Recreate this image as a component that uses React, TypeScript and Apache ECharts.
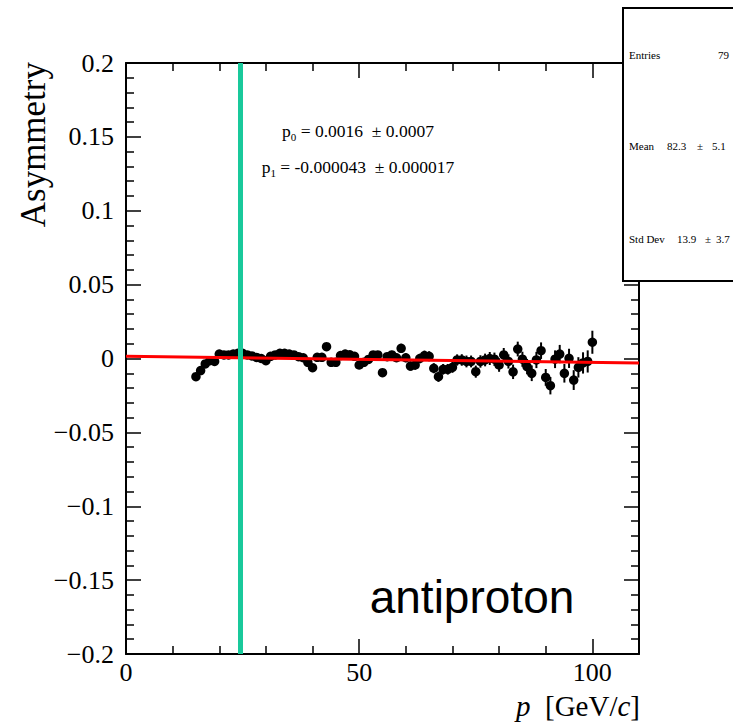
import React, { useEffect, useRef } from "react";
import * as echarts from "echarts";

// ---- data -------------------------------------------------------------
const MOMENTUM = [
  15, 16, 17, 18, 19, 20, 21, 22, 23, 24, 25, 26, 27, 28, 29, 30, 31, 32, 33, 34,
  35, 36, 37, 38, 39, 40, 41, 42, 43, 44, 45, 46, 47, 48, 49, 50, 51, 52, 53, 54,
  55, 56, 57, 58, 59, 60, 61, 62, 63, 64, 65, 66, 67, 68, 69, 70, 71, 72, 73, 74,
  75, 76, 77, 78, 79, 80, 81, 82, 83, 84, 85, 86, 87, 88, 89, 90, 91, 92, 93, 94,
  95, 96, 97, 98, 99, 100,
];

const ASYMMETRY = [
  -0.0123, -0.0082, -0.0037, -0.0015, -0.002, 0.003, 0.0024, 0.0024, 0.003, 0.0035,
  0.0035, 0.0024, 0.0017, 0.0007, 0.0, -0.0015, 0.0015, 0.0024, 0.0035, 0.0035,
  0.003, 0.0024, 0.0012, 0.0005, -0.0026, -0.0062, 0.0008, 0.0008, 0.008, -0.0026,
  -0.0026, 0.002, 0.003, 0.0025, 0.0015, -0.0044, -0.0026, -0.0006, 0.0024, 0.0024,
  -0.0096, 0.0012, 0.0024, 0.0005, 0.0069, 0.0005, -0.0051, -0.0044, 0.0, 0.002,
  0.0015, -0.0066, -0.0123, -0.0073, -0.0073, -0.006, -0.001, -0.001, -0.002, -0.002,
  -0.0089, -0.002, -0.001, 0.0, -0.0005, -0.0044, 0.0024, -0.002, -0.009, 0.0064,
  -0.0005, -0.0055, -0.01, -0.001, 0.0053, -0.0128, -0.0184, -0.0005, 0.003, -0.01,
  0.0001, -0.0146, -0.006, -0.003, -0.002, 0.011,
];

const ASYM_ERROR = [
  0.0012, 0.0012, 0.0012, 0.0012, 0.0012, 0.0012, 0.0012, 0.0012, 0.0013, 0.0013,
  0.0013, 0.0013, 0.0013, 0.0014, 0.0014, 0.0014, 0.0016, 0.0016, 0.0017, 0.0017,
  0.0018, 0.0018, 0.0018, 0.0019, 0.0019, 0.002, 0.002, 0.002, 0.0021, 0.0021,
  0.0022, 0.0023, 0.0023, 0.0024, 0.0024, 0.0025, 0.0025, 0.0026, 0.0026, 0.0027,
  0.0027, 0.0028, 0.0028, 0.0029, 0.003, 0.003, 0.0031, 0.0032, 0.0032, 0.0033,
  0.0034, 0.0034, 0.0035, 0.0036, 0.0036, 0.0037, 0.0038, 0.0039, 0.004, 0.004,
  0.0041, 0.0042, 0.0043, 0.0044, 0.0045, 0.0046, 0.0047, 0.0048, 0.0049, 0.005,
  0.0051, 0.0052, 0.0053, 0.0055, 0.0056, 0.0057, 0.0059, 0.006, 0.0062, 0.0063,
  0.0065, 0.0067, 0.0069, 0.0072, 0.0075, 0.0078,
];

const FIT_P0 = 0.0016;
const FIT_P1 = -0.000043;
const FIT_LINES = [
  { name: "p", sub: "0", rest: " = 0.0016  \u00b1 0.0007" },
  { name: "p", sub: "1", rest: " = -0.000043  \u00b1 0.000017" },
];
const CUT_P = 24.5;
const X_RANGE = [0, 110];
const Y_RANGE = [-0.2, 0.2];
const STATS = [
  { label: "Entries", value: "", pm: "", err: "79" },
  { label: "Mean", value: "82.3", pm: "\u00b1", err: "5.1" },
  { label: "Std Dev", value: "13.9", pm: "\u00b1", err: "3.7" },
];
const X_TITLE = "{i|p}  [GeV/{i|c}]";
const Y_TITLE = "Asymmetry";
const LABEL_TEXT = "antiproton";

const SERIF = '"Liberation Serif", "Times New Roman", serif';
const SANS = '"Liberation Sans", Arial, sans-serif';

function fmtY(v: number) {
  const r = Math.round(v * 1000) / 1000;
  if (r === 0) return "0";
  if (r < 0) return "\u2212" + String(Math.abs(r));
  return String(r);
}

export default function App() {
  const ref = useRef<HTMLDivElement>(null);
  useEffect(() => {
    const chart = echarts.init(ref.current!, null, { renderer: "svg" });
    const axisCommon = {
      axisLine: { show: true, onZero: false, lineStyle: { color: "#000", width: 2 } },
      axisTick: { show: true, inside: true, length: 15, lineStyle: { color: "#000", width: 1.5 } },
      minorTick: { show: true, splitNumber: 5, length: 8, lineStyle: { color: "#000", width: 1.5 } },
      splitLine: { show: false },
    };
    const labelStyle = { color: "#000", fontFamily: SERIF, fontSize: 26 };

    const pointData = MOMENTUM.map((p, i) => [p, ASYMMETRY[i], ASYM_ERROR[i]]);
    const fitData = [
      [X_RANGE[0], FIT_P0 + FIT_P1 * X_RANGE[0]],
      [X_RANGE[1], FIT_P0 + FIT_P1 * X_RANGE[1]],
    ];

    const graphics: any[] = [];
    // stats box
    graphics.push({
      type: "rect",
      z: 100,
      shape: { x: 623, y: 8, width: 200, height: 273 },
      style: { fill: "#fff", stroke: "#000", lineWidth: 2 },
    });
    const statY = [55, 146, 239];
    const statX = [
      { v: 0, pm: 0, e: 718 },
      { v: 667, pm: 697, e: 712 },
      { v: 677, pm: 705, e: 716 },
    ];
    const statFont = { fontFamily: SERIF, fontSize: 11, fill: "#000", align: "left", verticalAlign: "middle" };
    STATS.forEach((s, i) => {
      graphics.push({ type: "text", z: 101, x: 629, y: statY[i], style: { ...statFont, text: s.label } });
      if (s.value)
        graphics.push({ type: "text", z: 101, x: statX[i].v, y: statY[i], style: { ...statFont, text: s.value } });
      if (s.pm)
        graphics.push({ type: "text", z: 101, x: statX[i].pm, y: statY[i], style: { ...statFont, text: s.pm } });
      graphics.push({ type: "text", z: 101, x: statX[i].e, y: statY[i], style: { ...statFont, text: s.err } });
    });
    // fit results
    const fitY = [131, 167];
    FIT_LINES.forEach((f, i) => {
      graphics.push({
        type: "text", z: 50, x: 358, y: fitY[i],
        style: {
          text: `{n|${f.name}}{s|${f.sub}}{n|${f.rest}}`,
          align: "center", verticalAlign: "middle", fill: "#000",
          rich: {
            n: { fontFamily: SERIF, fontSize: 17.5, lineHeight: 22, fill: "#000" },
            s: { fontFamily: SERIF, fontSize: 11, verticalAlign: "bottom", fill: "#000" },
          },
        },
      });
    });
    // y title
    graphics.push({
      type: "text", x: 33, y: 62, rotation: Math.PI / 2,
      style: { text: Y_TITLE, fontFamily: SERIF, fontSize: 35, fill: "#000", align: "right", verticalAlign: "middle" },
    });
    // x title
    graphics.push({
      type: "text", x: 640, y: 706,
      style: {
        text: X_TITLE, fontFamily: SERIF, fontSize: 29, fill: "#000", align: "right", verticalAlign: "middle",
        rich: {
          i: { fontFamily: SERIF, fontSize: 29, fontStyle: "italic", fill: "#000" },
        },
      },
    });
    // label
    graphics.push({
      type: "text", x: 472, y: 597,
      style: { text: LABEL_TEXT, fontFamily: SANS, fontSize: 46, fill: "#000", align: "center", verticalAlign: "middle" },
    });

    chart.setOption({
      animation: false,
      backgroundColor: "#fff",
      grid: { left: 126, top: 63, right: 94, bottom: 72, containLabel: false },
      xAxis: [
        {
          type: "value", min: X_RANGE[0], max: X_RANGE[1], interval: 50, position: "bottom",
          ...axisCommon,
          axisLabel: { ...labelStyle, showMaxLabel: false, margin: 5 },
        },
        {
          type: "value", min: X_RANGE[0], max: X_RANGE[1], interval: 50, position: "top",
          ...axisCommon,
          axisLabel: { show: false },
        },
      ],
      yAxis: [
        {
          type: "value", min: Y_RANGE[0], max: Y_RANGE[1], interval: 0.05, position: "left",
          ...axisCommon,
          axisLabel: { ...labelStyle, margin: 12, formatter: (v: number) => fmtY(v) },
        },
        {
          type: "value", min: Y_RANGE[0], max: Y_RANGE[1], interval: 0.05, position: "right",
          ...axisCommon,
          axisLabel: { show: false },
        },
      ],
      series: [
        {
          type: "custom",
          xAxisIndex: 0, yAxisIndex: 0, z: 2,
          renderItem: (params: any, api: any) => {
            const x = api.value(0), y = api.value(1), e = api.value(2);
            const a = api.coord([x, y + e]);
            const b = api.coord([x, y - e]);
            return {
              type: "line",
              shape: { x1: a[0], y1: a[1], x2: b[0], y2: b[1] },
              style: { stroke: "#000", lineWidth: 2 },
            };
          },
          encode: { x: 0, y: 1 },
          data: pointData,
          silent: true,
        },
        {
          type: "scatter", xAxisIndex: 0, yAxisIndex: 0, z: 3,
          symbol: "circle", symbolSize: 9.5,
          itemStyle: { color: "#000", opacity: 1 },
          data: pointData.map((d) => [d[0], d[1]]),
          silent: true,
        },
        {
          type: "line", xAxisIndex: 0, yAxisIndex: 0, z: 4,
          data: fitData, showSymbol: false, symbol: "none",
          lineStyle: { color: "#ff0000", width: 3 },
          silent: true,
          markLine: {
            silent: true, symbol: ["none", "none"], label: { show: false },
            lineStyle: { color: "#19c99b", width: 5, type: "solid" },
            data: [{ xAxis: CUT_P }],
            z: 5,
          },
        },
      ],
      graphic: graphics,
    });
    return () => chart.dispose();
  }, []);
  return (
    <div
      ref={ref}
      style={{ position: "absolute", left: 0, top: 0, width: 733, height: 726 }}
    />
  );
}
